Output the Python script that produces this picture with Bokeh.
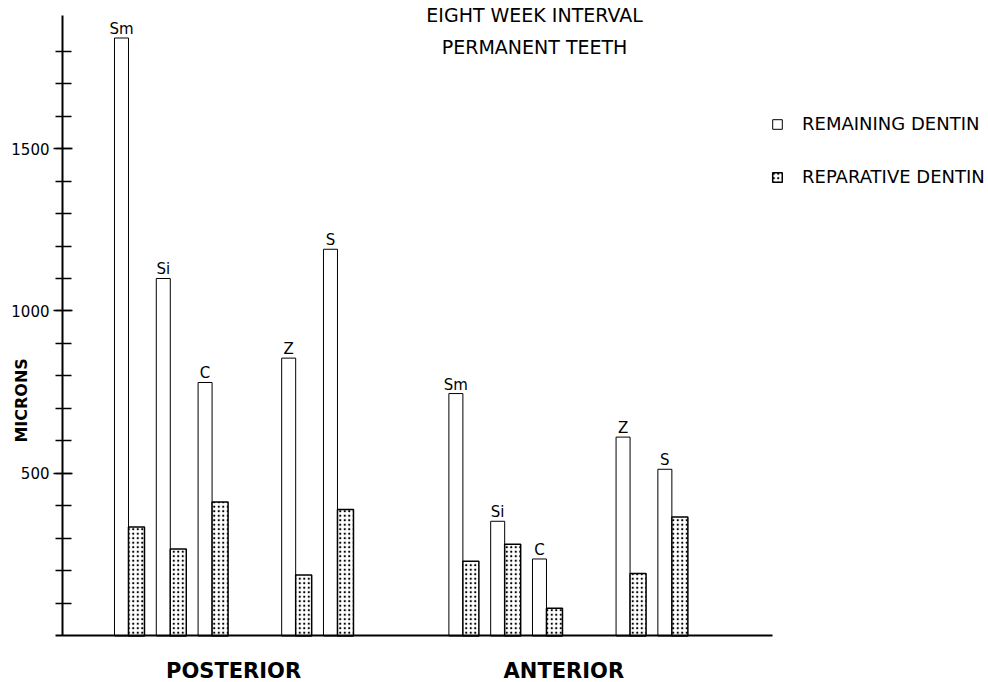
from math import pi

from bokeh.plotting import figure
from bokeh.models import (ColumnDataSource, Range1d, FixedTicker, Label,
                          Legend, LegendItem)
from bokeh.core.properties import value
from bokeh.embed import file_html
from bokeh.resources import INLINE

# ---------------- data ----------------
groups = ["POSTERIOR", "ANTERIOR"]
teeth = ["Sm", "Si", "C", "Z", "S"]
remaining_posterior = [1840, 1100, 780, 855, 1190]
reparative_posterior = [335, 268, 412, 188, 389]
remaining_anterior = [746, 353, 237, 612, 513]
reparative_anterior = [230, 282, 85, 192, 366]
y_tick_labels = [500, 1000, 1500]
y_minor_ticks = [100, 200, 300, 400, 500, 600, 700, 800, 900, 1000,
                 1100, 1200, 1300, 1400, 1500, 1600, 1700, 1800]

# ---------------- layout (positions on the x scale) ----------------
slot_in_group = [0, 1, 2, 4, 5]     # gap between C and Z
group_offset = 8
px = 41.8                           # pixels per slot
rem_w = 14 / px
rep_w = 16 / px

xs, rem, rep, labels = [], [], [], []
for gi, (g, r_vals, p_vals) in enumerate(zip(
        groups, [remaining_posterior, remaining_anterior],
        [reparative_posterior, reparative_anterior])):
    for ti, t in enumerate(teeth):
        xs.append(gi * group_offset + slot_in_group[ti])
        rem.append(r_vals[ti])
        rep.append(p_vals[ti])
        labels.append(t)

source = ColumnDataSource(dict(
    x_rem=[x + rem_w / 2 for x in xs],
    x_rep=[x + rem_w + rep_w / 2 for x in xs],
    remaining=rem,
    reparative=rep,
    tooth=labels,
))

FONT = "DejaVu Sans"
W, H = 988, 682

p = figure(width=W, height=H, output_backend="svg", toolbar_location=None,
           x_range=Range1d(-2.727, 20.91), y_range=Range1d(-143.1, 1955.4),
           min_border=0, outline_line_color=None,
           background_fill_color="white", border_fill_color="white")
p.xgrid.visible = False
p.ygrid.visible = False

r_rem = p.vbar(x="x_rem", top="remaining", bottom=0, width=rem_w, source=source,
               fill_color="white", line_color="black", line_width=1)
r_rep = p.vbar(x="x_rep", top="reparative", bottom=0, width=rep_w, source=source,
               fill_color="white", line_color="black", line_width=1.5,
               hatch_pattern="dot", hatch_color="black", hatch_scale=4.5,
               hatch_weight=1.2)

p.text(x="x_rem", y="remaining", text="tooth", source=source,
       text_align="center", text_baseline="bottom",
       text_font=value(FONT), text_font_size="15px", text_color="black")

# ---------------- y axis ----------------
ya = p.yaxis[0]
ya.fixed_location = -1.244
ya.bounds = (0, 1910)
ya.ticker = FixedTicker(ticks=y_tick_labels, minor_ticks=y_minor_ticks)
ya.axis_line_width = 2
ya.axis_line_color = "black"
ya.major_tick_in = 10
ya.major_tick_out = 9
ya.minor_tick_in = 9
ya.minor_tick_out = 7
ya.major_tick_line_width = 1.5
ya.minor_tick_line_width = 1.5
ya.major_label_standoff = 4
ya.major_label_text_font = FONT
ya.major_label_text_font_size = "15px"
ya.major_label_text_color = "black"

# ---------------- x axis ----------------
xa = p.xaxis[0]
xa.fixed_location = 0
xa.bounds = (-1.41, 15.74)
group_centers = [2.85, 10.75]
xa.ticker = FixedTicker(ticks=group_centers)
xa.major_label_overrides = {c: g for c, g in zip(group_centers, groups)}
xa.axis_line_width = 2
xa.axis_line_color = "black"
xa.major_tick_in = 0
xa.major_tick_out = 0
xa.major_label_standoff = 23
xa.major_label_text_font = FONT
xa.major_label_text_font_style = "bold"
xa.major_label_text_font_size = "21px"
xa.major_label_text_color = "black"

# ---------------- titles and axis name ----------------
for txt, yv in [("EIGHT WEEK INTERVAL", 1912), ("PERMANENT TEETH", 1811)]:
    p.add_layout(Label(x=10.05, y=yv, text=txt, text_align="center",
                       text_baseline="middle", text_font=FONT,
                       text_font_size="19px", text_color="black"))

p.add_layout(Label(x=-2.225, y=725, text="MICRONS", angle=pi / 2,
                   text_align="center", text_baseline="middle",
                   text_font=FONT, text_font_size="16px",
                   text_font_style="bold", text_color="black"))

# ---------------- legend ----------------
legend = Legend(items=[LegendItem(label="REMAINING DENTIN", renderers=[r_rem]),
                       LegendItem(label="REPARATIVE DENTIN", renderers=[r_rep])],
                location=(771, 495), orientation="vertical",
                glyph_width=12, glyph_height=12, label_height=12,
                label_standoff=19, spacing=32, padding=0, margin=0,
                border_line_color=None, background_fill_alpha=0,
                label_text_font=FONT, label_text_font_size="18px",
                label_text_color="black")
p.add_layout(legend)

open("out.html", "w").write(file_html(p, INLINE))
